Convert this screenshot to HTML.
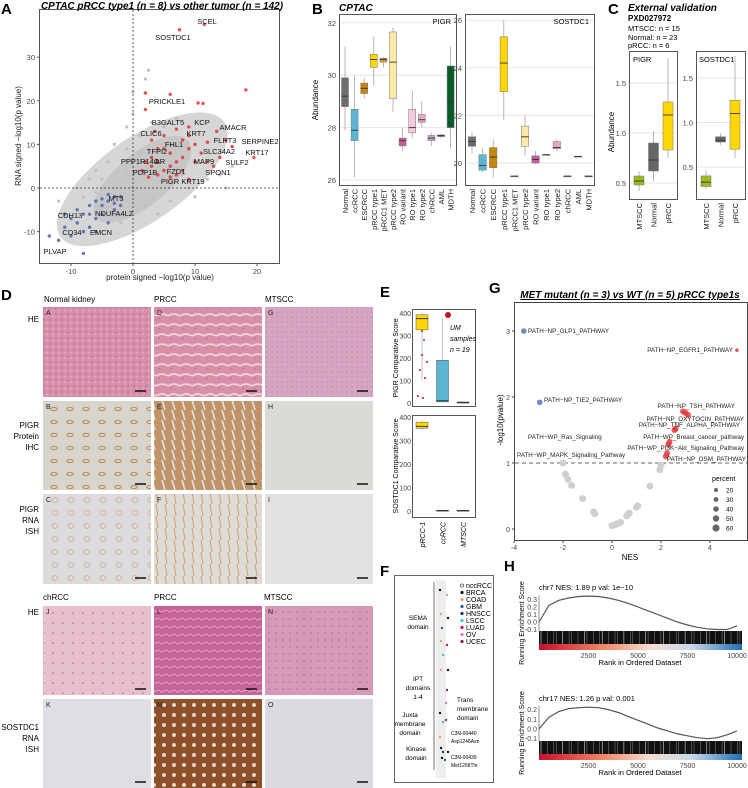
<!DOCTYPE html>
<html><head><meta charset="utf-8">
<style>
html,body{margin:0;padding:0;background:#fff;}
svg{display:block;font-family:"Liberation Sans",sans-serif;}
</style></head>
<body>
<svg id="fig" width="748" height="788" viewBox="0 0 748 788">
<defs>
<linearGradient id="heat" x1="0" x2="1"><stop offset="0" stop-color="#c8102e"/><stop offset="0.3" stop-color="#f08060"/><stop offset="0.55" stop-color="#f4ddd0"/><stop offset="0.75" stop-color="#c8d8e8"/><stop offset="1" stop-color="#1f6fb4"/></linearGradient>
<pattern id="he1" width="6" height="6" patternUnits="userSpaceOnUse"><rect width="6" height="6" fill="#d890aa"/><circle cx="2" cy="2" r="0.9" fill="#b070a0"/><circle cx="5" cy="4.5" r="0.8" fill="#eab8c8"/></pattern>
<pattern id="he2" width="12" height="10" patternUnits="userSpaceOnUse"><rect width="12" height="10" fill="#d890aa"/><path d="M0 6 Q6 2 12 6" stroke="#f0d4dc" stroke-width="1.6" fill="none"/><circle cx="3" cy="8.5" r="0.7" fill="#b06898"/></pattern>
<pattern id="he3" width="5" height="5" patternUnits="userSpaceOnUse"><rect width="5" height="5" fill="#d6a6c0"/><circle cx="2" cy="2" r="0.7" fill="#b088b8"/></pattern>
<pattern id="ihc1" width="16" height="13" patternUnits="userSpaceOnUse"><rect width="16" height="13" fill="#d8d5cf"/><ellipse cx="6" cy="6" rx="3.2" ry="1.6" fill="none" stroke="#c08a52" stroke-width="1"/></pattern>
<pattern id="ihc2" width="10" height="10" patternUnits="userSpaceOnUse"><rect width="10" height="10" fill="#c09468"/><path d="M2 0 L5 10" stroke="#e4e2e0" stroke-width="1.6"/></pattern>
<pattern id="ish1" width="16" height="13" patternUnits="userSpaceOnUse"><rect width="16" height="13" fill="#dcdce0"/><ellipse cx="7" cy="6" rx="3" ry="2.4" fill="none" stroke="#d4aa74" stroke-width="0.8"/></pattern>
<pattern id="ish2" width="9" height="12" patternUnits="userSpaceOnUse"><rect width="9" height="12" fill="#dedad6"/><path d="M3 0 L5 12" stroke="#ccA070" stroke-width="1"/></pattern>
<pattern id="he4" width="10" height="10" patternUnits="userSpaceOnUse"><rect width="10" height="10" fill="#e8c0cc"/><circle cx="3" cy="3" r="0.8" fill="#a46894"/></pattern>
<pattern id="he5" width="8" height="8" patternUnits="userSpaceOnUse"><rect width="8" height="8" fill="#c6649a"/><path d="M0 4 L8 2" stroke="#e4a8c4" stroke-width="1"/></pattern>
<pattern id="he6" width="7" height="7" patternUnits="userSpaceOnUse"><rect width="7" height="7" fill="#d69ab6"/><circle cx="3" cy="3" r="0.8" fill="#a470a0"/></pattern>
<pattern id="sos2" width="10" height="10" patternUnits="userSpaceOnUse"><rect width="10" height="10" fill="#8e5028"/><circle cx="4" cy="5" r="2" fill="#e2d6ce"/></pattern>
</defs>

<!-- Panel letters -->
<g font-weight="bold" font-size="15" fill="#000">
<text x="1" y="14">A</text><text x="312" y="14">B</text><text x="608" y="14">C</text>
<text x="1" y="300">D</text><text x="380" y="297">E</text><text x="380" y="576">F</text>
<text x="489" y="293">G</text><text x="504" y="571">H</text>
</g>

<!-- Panel A -->
<rect x="39.5" y="9.5" width="240" height="254" fill="#fff" stroke="#555"/>
<text x="162" y="9" font-size="10" font-weight="bold" font-style="italic" text-anchor="middle">CPTAC pRCC type1 (n = 8) vs other tumor (n = 142)</text>
<g id="gA"></g>
<text x="160" y="280" font-size="8" text-anchor="middle" fill="#222">protein signed −log10(p value)</text>
<text transform="translate(21,136) rotate(-90)" font-size="8" text-anchor="middle" fill="#222">RNA signed −log10(p value)</text>

<!-- Panel B -->
<text x="339" y="11" font-size="10" font-weight="bold" font-style="italic">CPTAC</text>
<text transform="translate(318,100) rotate(-90)" font-size="8" text-anchor="middle">Abundance</text>
<g id="gB"></g>

<!-- Panel C -->
<text x="628" y="11" font-size="10" font-weight="bold" font-style="italic">External validation</text>
<text x="628" y="21" font-size="8" font-weight="bold">PXD027972</text>
<text x="628" y="31" font-size="7.5">MTSCC: n = 15</text>
<text x="628" y="40" font-size="7.5">Normal: n = 23</text>
<text x="628" y="48" font-size="7.5">pRCC: n = 6</text>
<text transform="translate(614,132) rotate(-90)" font-size="8" text-anchor="middle">Abundance</text>
<g id="gC"></g>

<!-- Panel D -->
<g id="gD"></g>

<!-- Panel E -->
<g id="gE"></g>

<!-- Panel F -->
<g id="gF"></g>

<!-- Panel G -->
<text x="630" y="298" font-size="10" font-weight="bold" font-style="italic" text-anchor="middle" text-decoration="underline">MET mutant (n = 3) vs WT (n = 5) pRCC type1s</text>
<rect x="514.5" y="302.5" width="233" height="238" fill="#fff" stroke="#444"/>
<g id="gG"></g>
<text x="630" y="560" font-size="8" text-anchor="middle">NES</text>
<text transform="translate(503,420) rotate(-90)" font-size="8" text-anchor="middle">-log10(pvalue)</text>

<!-- Panel H -->
<g id="gH"></g>
</svg>

<script>
const NS='http://www.w3.org/2000/svg';
function mk(parent,tag,attrs,txt){const e=document.createElementNS(NS,tag);for(const k in attrs)e.setAttribute(k,attrs[k]);if(txt!==undefined)e.textContent=txt;parent.appendChild(e);return e;}

/* ---------- Panel A data ---------- */
const aXTicks=[-10,0,10,20];
const aYTicks=[-10,0,10,20,30];
const aRed=[[11.5,37.5],[7.5,36.3],[18.2,22.5],[6,21.5],[2,21.8],[10.5,19.5],[11.3,19.4],[2,18],[7,13.5],[9,14],[13.5,13],[15,11],[12,10.5],[4,9],[6,8],[8,7],[10,6],[3,5],[5,4],[7,3],[9,2],[19.5,7],[16,9.5],[14,7],[3,11],[5,12],[8,11],[2.5,2.5],[4,6],[6,5],[9,9],[11,8],[13,5],[1.5,4],[3,7],[5,9],[7,6],[8,4],[10,10],[12,6],[4,3],[6,2.5],[2,6],[3.5,13],[9,12]];
const aBlue=[[-13.5,-11],[-12,-12],[-11,-9],[-10,-7],[-9,-8],[-8,-15],[-8,-6],[-7,-9],[-6,-7],[-5,-4],[-4,-3],[-3,-2],[-5,-6],[-6,-10],[-3,-5],[-2,-2],[-7,-4],[-9,-5],[-4,-8],[-2,-4],[-10,-11],[-6,-3],[-4,-1.5],[-8,-10],[-5,-2.5],[-3,-3.5],[-7,-6],[-11,-6]];
const aGray=[[0,0],[2,3],[-2,-1],[4,5],[-4,-3],[1,8],[3,-2],[-1,4],[6,2],[-3,1],[5,-1],[8,3],[-6,-1],[0,-6],[2,-4],[-5,2],[1,12],[-1,9],[3,15],[0,17],[2,25],[2.5,27],[-1,14],[6,-3],[9,0],[-8,-2],[-7,2],[12,2],[14,3],[-2,-8],[4,-6],[16,5],[-9,0],[-12,-3],[10,-2],[7,16],[5,14],[0,22],[-3,10],[-4,6],[-6,4],[15,0]];
const aLabels=[["SCEL",207,21],["SOSTDC1",173,37],["PRICKLE1",167,101],["B3GALT5",168,122],["KCP",202,122],["AMACR",233,127],["CLIC6",151,133],["KRT7",196,133],["FLRT3",225,140],["SERPINE2",260,141],["FHL1",174,144],["TFPI2",157,151],["SLC34A2",219,151],["KRT17",257,152],["PPP1R14C",140,161],["AR",160,161],["MAP9",204,161],["SULF2",237,162],["PDP1B",145,172],["FZD1",176,171],["SPON1",218,172],["PIGR",170,181],["KRT19",193,181],["MT3",116,198],["CDH13",70,215],["NDUFA4L2",114,213],["CD34",72,232],["EMCN",101,232],["PLVAP",55,251]];
const ax=v=>133+v*6.2, ay=v=>188-v*4.36;
const gA=document.getElementById('gA');
const cloud=mk(gA,'ellipse',{cx:ax(1.5),cy:ay(2),rx:100,ry:42,fill:'#d6d6d6',transform:`rotate(-35 ${ax(1.5)} ${ay(2)})`});


const cloud2=mk(gA,'ellipse',{cx:ax(1.5),cy:ay(2),rx:60,ry:26,fill:'#c6c6c6',transform:`rotate(-40 ${ax(1.5)} ${ay(2)})`});


aGray.forEach(p=>{const c=mk(gA,'circle',{cx:ax(p[0]),cy:ay(p[1]),r:1.6,fill:'#c0c0c0'});

});
aBlue.forEach(p=>{const c=mk(gA,'circle',{cx:ax(p[0]),cy:ay(p[1]),r:1.7,fill:'#4a66b0',opacity:0.85});

});
aRed.forEach(p=>{const c=mk(gA,'circle',{cx:ax(p[0]),cy:ay(p[1]),r:1.7,fill:'#e83030',opacity:0.85});

});
mk(gA,'line',{x1:ax(0),x2:ax(0),y1:10,y2:263,stroke:'#333','stroke-dasharray':'2,2','stroke-width':0.8});
mk(gA,'line',{x1:40,x2:279,y1:ay(0),y2:ay(0),stroke:'#333','stroke-dasharray':'2,2','stroke-width':0.8});
aLabels.forEach(l=>{const t=mk(gA,'text',{x:l[1],y:l[2]+3,'font-size':7.5,'text-anchor':'middle',fill:'#111'},l[0]);

});
aXTicks.forEach(v=>{mk(gA,'line',{x1:ax(v),x2:ax(v),y1:264,y2:266,stroke:'#555'});const t=mk(gA,'text',{x:ax(v),y:274,'font-size':7.5,'text-anchor':'middle',fill:'#444'},v);

});
aYTicks.forEach(v=>{mk(gA,'line',{x1:37,x2:39,y1:ay(v),y2:ay(v),stroke:'#555'});const t=mk(gA,'text',{x:35,y:ay(v)+3,'font-size':7.5,'text-anchor':'end',fill:'#444'},v);

});

/* ---------- Panel B data ---------- */
const bCats=["Normal","ccRCC","ESCRCC","pRCC type1","pRCC1 MET","pRCC type2","RO variant","RO type1","RO type2","chRCC","AML","MDTH"];
const bColors=["#6e6e6e","#5bb5d3","#c8860b","#ffd700","#e6951f","#ffe9a8","#cc5a9a","#f8c8dc","#e8a8c4","#c4a4cc","#888888","#0a5a2a"];
const bPIGR=[[27.9,28.8,29.2,29.9,31.1],[26.1,27.5,27.9,28.7,30.0],[29.1,29.3,29.5,29.7,29.9],[29.6,30.3,30.6,30.8,31.5],[30.3,30.5,30.6,30.65,30.7],[28.6,29.1,30.5,31.65,31.8],[27.1,27.3,27.5,27.6,28.0],[27.6,27.8,28.0,28.7,29.4],[28.0,28.2,28.3,28.5,29.0],[27.3,27.5,27.6,27.7,27.8],[27.6,27.65,27.7,27.72,27.75],[27.2,28.0,29.0,30.35,31.1]];
const bSOS=[[20.4,20.7,20.9,21.1,21.3],[19.6,19.7,19.9,20.35,20.6],[19.4,19.8,20.25,20.65,21.0],[21.8,23.0,24.2,25.3,26.0],[19.45,19.45,19.45,19.45,19.45],[20.3,20.7,21.1,21.55,22.0],[19.95,20.0,20.15,20.3,20.5],[20.35,20.35,20.35,20.35,20.35],[20.5,20.6,20.65,20.9,21.0],[19.45,19.45,19.45,19.45,19.45],[20.28,20.28,20.28,20.28,20.28],[19.45,19.45,19.45,19.45,19.45]];
const bPIGRTicks=[26,28,30,32];
const bSOSTicks=[20,22,24,26];
const gB=document.getElementById('gB');
function boxPanel(g,name,x0,x1,yt,yb,ymap,ticks,data,cats,colors,title,cx0,dx,bw,labelY,dec){
  const fr=mk(g,'rect',{x:x0+.5,y:yt+.5,width:x1-x0,height:yb-yt,fill:'#fff',stroke:'#555'});
  
  
  ticks.forEach(v=>{mk(g,'line',{x1:x0+1,x2:x1,y1:ymap(v),y2:ymap(v),stroke:'#e6e6e6'});
    const t=mk(g,'text',{x:x0-3,y:ymap(v)+3,'font-size':7.5,'text-anchor':'end',fill:'#444'},v.toFixed(dec));
    
    });
  if(title){const t=mk(g,'text',{x:x1-5,y:yt+10,'font-size':7.5,'text-anchor':'end'},title);
    
    }
  data.forEach((d,i)=>{const cx=cx0+i*dx;
    mk(g,'line',{x1:cx,x2:cx,y1:ymap(d[0]),y2:ymap(d[4]),stroke:'#999','stroke-width':0.7});
    const r=mk(g,'rect',{x:cx-bw/2,y:ymap(d[3]),width:bw,height:Math.max(0.8,ymap(d[1])-ymap(d[3])),fill:colors[i],stroke:'#777','stroke-width':0.5});
    
    
    mk(g,'line',{x1:cx-bw/2,x2:cx+bw/2,y1:ymap(d[2]),y2:ymap(d[2]),stroke:'#333','stroke-width':0.9});
    const t=mk(g,'text',{transform:`translate(${cx+3},${labelY}) rotate(-90)`,'font-size':7.5,'text-anchor':'end',fill:'#222'},cats[i]);
    
    
  });
}
const bpy=v=>180-(v-26)*26.2;
boxPanel(gB,'pigr-cptac',339,456,14,185,bpy,bPIGRTicks,bPIGR,bCats,bColors,'PIGR',345,9.6,7,189,0);
const bsy=v=>163-(v-20)*23.8;
boxPanel(gB,'sostdc1-cptac',465,594,14,185,bsy,bSOSTicks,bSOS,bCats,bColors,'SOSTDC1',472,10.6,7.5,189,0);

/* ---------- Panel C data ---------- */
const cCats=["MTSCC","Normal","pRCC"];
const cColors=["#9bbb1f","#666666","#ffd700"];
const cPIGR=[[0.42,0.48,0.52,0.57,0.62],[0.52,0.62,0.73,0.90,1.02],[0.75,0.83,1.18,1.31,1.75]];
const cSOS=[[0.25,0.28,0.33,0.40,0.46],[0.75,0.78,0.80,0.84,0.88],[0.6,0.7,1.1,1.25,1.75]];
const cPIGRTicks=[0.5,1.0,1.5];
const cSOSTicks=[0.5,1.0,1.5];
const gC=document.getElementById('gC');
boxPanel(gC,'pigr-external',629,677,51,199,v=>183-(v-0.5)*100,cPIGRTicks,cPIGR,cCats,cColors,null,639,14.5,10,203,1);
boxPanel(gC,'sostdc1-external',696,745,51,199,v=>167-(v-0.5)*89,cSOSTicks,cSOS,cCats,cColors,null,706,14.5,10,203,1);
mk(gC,'text',{x:633,y:62,'font-size':7.5},'PIGR');
mk(gC,'text',{x:699,y:62,'font-size':7.5},'SOSTDC1');

/* ---------- Panel D ---------- */
const gD=document.getElementById('gD');
const dCols=[43,154,265], dW=108;
const dRows=[[307,90],[401,89],[494,90],[606,89],[699,89]];
const dFills=[["he1","he2","he3"],["ihc1","ihc2","#dcdad6"],["ish1","ish2","#e2e2e2"],["he4","he5","he6"],["#dedfe4","sos2","#d9dbe0"]];
const dLetters=[["A","D","G"],["B","E","H"],["C","F","I"],["J","L","N"],["K","M","O"]];
dRows.forEach((r,ri)=>dCols.forEach((x,ci)=>{const f=dFills[ri][ci];
  const rc=mk(gD,'rect',{x:x,y:r[0],width:dW,height:r[1],fill:f.startsWith('#')?f:`url(#${f})`});
  
  
  mk(gD,'text',{x:x+3,y:r[0]+8,'font-size':7,fill:'#222'},dLetters[ri][ci]);
  mk(gD,'line',{x1:x+dW-16,x2:x+dW-5,y1:r[0]+r[1]-6,y2:r[0]+r[1]-6,stroke:'#111','stroke-width':1.5});
}));
[["Normal kidney",44,302],["PRCC",154,302],["MTSCC",265,302],["chRCC",43,600],["PRCC",154,600],["MTSCC",264,600]].forEach(h=>{const t=mk(gD,'text',{x:h[1],y:h[2],'font-size':8},h[0]);

});
[[["HE"],322],[["PIGR","Protein","IHC"],428],[["PIGR","RNA","ISH"],512],[["HE"],615],[["SOSTDC1","RNA","ISH"],730]].forEach(rl=>{rl[0].forEach((s,i)=>{const t=mk(gD,'text',{x:39,y:rl[1]+i*11,'font-size':8,'text-anchor':'end'},s);

});});

/* ---------- Panel E ---------- */
const eCats=["pRCC-1","ccRCC","MTSCC"];
const ePIGR=[[100,325,375,392,400],[0,5,10,190,375],[0,2,3,4,5]];
const eSOS=[[345,352,360,378,385],[0,1,2,3,4],[0,1,2,3,4]];
const eColors=["#ffd700","#5bb5d3","#cc2020"];
const eTicks=[0,100,200,300,400];
const gE=document.getElementById('gE');
function ePanel(yt,yb,ymap,data,name){
  const fr=mk(gE,'rect',{x:412.5,y:yt+.5,width:63,height:yb-yt,fill:'#fff',stroke:'#555'});
  
  
  eTicks.forEach(v=>{mk(gE,'text',{x:411,y:ymap(v)+3,'font-size':7,'text-anchor':'end',fill:'#444'},v);});
  data.forEach((d,i)=>{const cx=422+i*20.5;
    mk(gE,'line',{x1:cx,x2:cx,y1:ymap(d[0]),y2:ymap(d[4]),stroke:'#999','stroke-width':0.6});
    const r=mk(gE,'rect',{x:cx-6,y:ymap(d[3]),width:12,height:Math.max(1,ymap(d[1])-ymap(d[3])),fill:i==2?'#555':eColors[i],stroke:'#555','stroke-width':0.5});
    
    
    mk(gE,'line',{x1:cx-6,x2:cx+6,y1:ymap(d[2]),y2:ymap(d[2]),stroke:'#333'});
  });
}
ePanel(309,406,v=>403-v*0.225,ePIGR,'pigr-score-frame');
ePanel(415,517,v=>511-v*0.235,eSOS,'sostdc1-score-frame');
[[422,331],[424,340],[420,370],[425,378],[423,398],[418,396],[422,355],[427,362]].forEach(p=>mk(gE,'circle',{cx:p[0],cy:p[1],r:1,fill:'#d01010'}));
mk(gE,'circle',{cx:448,cy:315,r:3,fill:'#d01010'});
[["UM",450,330],["samples",450,341],["n = 19",450,352]].forEach(s=>mk(gE,'text',{x:s[1],y:s[2],'font-size':7,'font-style':'italic'},s[0]));
mk(gE,'text',{transform:'translate(398,358) rotate(-90)','font-size':7,'text-anchor':'middle'},'PIGR Comparative Score');
mk(gE,'text',{transform:'translate(398,466) rotate(-90)','font-size':7,'text-anchor':'middle'},'SOSTDC1 Comparative Score');
eCats.forEach((c,i)=>{const t=mk(gE,'text',{transform:`translate(${425+i*20.5},522) rotate(-90)`,'font-size':7,'text-anchor':'end','font-style':'italic'},c);

});

/* ---------- Panel F ---------- */
const gF=document.getElementById('gF');
const fr=mk(gF,'rect',{x:394.5,y:575.5,width:99,height:207,fill:'#fff',stroke:'#666'});


mk(gF,'rect',{x:436,y:580,width:10,height:198,fill:'#eeeeee'});
mk(gF,'line',{x1:434,x2:434,y1:582,y2:770,stroke:'#888','stroke-width':1.2});
const fTypes=["nccRCC","BRCA","COAD","GBM","HNSCC","LSCC","LUAD","OV","UCEC"];
const fColors=["#fff","#111","#e8a070","#1f5fa0","#223366","#40c0d0","#d0105a","#d080c0","#802070"];
fTypes.forEach((s,i)=>{const y=588+i*7;
  mk(gF,'circle',{cx:462,cy:y-2.5,r:1.6,fill:fColors[i],stroke:i==0?'#222':'none','stroke-width':0.6});
  const t=mk(gF,'text',{x:466,y:y,'font-size':7},s);
  
  });
const fMut=[[440,590,1],[447,595,2],[441,614,2],[448,618,1],[442,628,3],[441,641,2],[447,645,6],[443,655,5],[441,670,2],[448,670,1],[447,690,8],[446,703,7],[440,713,1],[446,720,6],[443,722,5],[440,737,2],[441,748,1],[443,752,4],[448,752,1],[442,758,1],[445,760,3]];
fMut.forEach(m=>{const c=mk(gF,'circle',{cx:m[0],cy:m[1],r:1.2,fill:fColors[m[2]]});

});
[[["SEMA","domain"],620,418],[["IPT","domains","1-4"],681,418],[["Juxta","membrane","domain"],717,410],[["Kinase","domain"],751,416],[["Trans","membrane","domain"],702,457]].forEach(d=>d[0].forEach((s,i)=>{const t=mk(gF,'text',{x:d[2],y:d[1]+i*9,'font-size':6.5,'text-anchor':d[2]>450?'start':'middle'},s);

}));
[["C3N-00440",735],["Asp1246Asn",743],["C3N-00439",759],["Met1268Thr",767]].forEach(s=>mk(gF,'text',{x:451,y:s[1],'font-size':5},s[0]));

/* ---------- Panel G data ---------- */
const gXTicks=[-4,-2,0,2,4];
const gYTicks=[0,1,2,3];
const gGray=[[-2,1.0],[-1.9,0.83],[-1.8,0.75],[-1.65,0.66],[-1.2,0.46],[-0.75,0.26],[-0.7,0.23],[0,0.05],[0.1,0.06],[0.2,0.08],[0.35,0.1],[0.6,0.2],[0.7,0.24],[1.0,0.33],[1.05,0.35],[1.55,0.65],[1.95,0.9],[2.0,0.97]];
const gRed=[[5.1,2.71],[2.9,1.78],[3.0,1.76],[3.1,1.73],[2.6,1.52],[2.55,1.5],[2.35,1.32],[2.3,1.28],[2.25,1.15],[2.2,1.1]];
const gBlue=[[-3.6,3.0],[-2.95,1.92]];
const gLabels=[["PATH−NP_GLP1_PATHWAY",528,333,"start"],["PATH−NP_EGFR1_PATHWAY",733,352,"end"],["PATH−NP_TIE2_PATHWAY",544,402,"start"],["PATH−NP_TSH_PATHWAY",735,408,"end"],["PATH−NP_OXYTOCIN_PATHWAY",744,421,"end"],["PATH−NP_TNF_ALPHA_PATHWAY",740,427,"end"],["PATH−WP_Ras_Signaling",528,439,"start"],["PATH−WP_Breast_cancer_pathway",744,439,"end"],["PATH−WP_PI3K−Akt_Signaling_Pathway",744,450,"end"],["PATH−WP_MAPK_Signaling_Pathway",517,457,"start"],["PATH−NP_OSM_PATHWAY",746,461,"end"]];
const gx=v=>612+v*24.5, gy=v=>529-v*66;
const gG=document.getElementById('gG');
mk(gG,'line',{x1:515,x2:747,y1:gy(1),y2:gy(1),stroke:'#666','stroke-dasharray':'4,3'});
gGray.forEach(p=>{const c=mk(gG,'circle',{cx:gx(p[0]),cy:gy(p[1]),r:3.5,fill:'#cfcfcf'});

});
gRed.forEach(p=>{const c=mk(gG,'circle',{cx:gx(p[0]),cy:gy(p[1]),r:p[0]>5?1.8:3,fill:'#e83a3a',opacity:0.85});

});
gBlue.forEach(p=>{const c=mk(gG,'circle',{cx:gx(p[0]),cy:gy(p[1]),r:2.8,fill:'#7088c0'});

});
gLabels.forEach(l=>{const t=mk(gG,'text',{x:l[1],y:l[2],'font-size':6.3,'text-anchor':l[3],fill:'#222'},l[0]);

});
gXTicks.forEach(v=>{mk(gG,'line',{x1:gx(v),x2:gx(v),y1:541,y2:543,stroke:'#444'});mk(gG,'text',{x:gx(v),y:550,'font-size':7,'text-anchor':'middle',fill:'#444'},v);});
gYTicks.forEach(v=>{mk(gG,'line',{x1:512,x2:514,y1:gy(v),y2:gy(v),stroke:'#444'});mk(gG,'text',{x:510,y:gy(v)+3,'font-size':7,'text-anchor':'end',fill:'#444'},v);});
const legPct=[20,30,40,50,60];
mk(gG,'text',{x:712,y:481,'font-size':7},'percent');
legPct.forEach((p,i)=>{const y=490+i*9.5;mk(gG,'circle',{cx:716,cy:y,r:1.2+p/25,fill:'#666'});const t=mk(gG,'text',{x:726,y:y+2.5,'font-size':6.5},p);

});

/* ---------- Panel H data ---------- */
const hRanks=[0,500,1000,1500,2000,2500,3000,3500,4000,4500,5000,5500,6000,6500,7000,7500,8000,8500,9000,9500,10000];
const hES7=[0,0.22,0.29,0.32,0.34,0.345,0.34,0.32,0.29,0.25,0.2,0.15,0.1,0.05,0.0,-0.04,-0.07,-0.09,-0.1,-0.1,-0.05];
const hES17=[0,0.12,0.18,0.21,0.22,0.225,0.22,0.2,0.17,0.13,0.09,0.05,0.01,-0.02,-0.05,-0.07,-0.09,-0.1,-0.09,-0.06,-0.02];
const hXTicks=[2500,5000,7500,10000];
const hTicks7=[-0.1,0.0,0.1,0.2,0.3];
const hTicks17=[-0.1,0.0,0.1,0.2];
const gH=document.getElementById('gH');
const hx=v=>539+v*0.0198;
function gsea(title,titleY,es,ticks,y0,scale,barTop,name){
  const yy=v=>y0-v*scale;
  const t=mk(gH,'text',{x:539,y:titleY,'font-size':7.5},title);
  
  
  ticks.forEach(v=>{mk(gH,'text',{x:537,y:yy(v)+2.5,'font-size':7,'text-anchor':'end',fill:'#444'},v.toFixed(1));});
  mk(gH,'line',{x1:539,x2:539,y1:yy(ticks[ticks.length-1])-4,y2:barTop,stroke:'#444','stroke-width':0.6});
  const d=es.map((v,i)=>(i?'L':'M')+hx(hRanks[i]).toFixed(1)+' '+yy(v).toFixed(1)).join(' ');
  const p=mk(gH,'path',{d:d,fill:'none',stroke:'#555','stroke-width':1.2});
  
  
  mk(gH,'rect',{x:539,y:barTop,width:203,height:13,fill:'#111'});
  for(let k=0;k<40;k++){const x=541+k*5.1+(k%3)*1.3;mk(gH,'line',{x1:x,x2:x,y1:barTop,y2:barTop+13,stroke:k%4==0?'#fff':'#888','stroke-width':0.5});}
  const hb=mk(gH,'rect',{x:539,y:barTop+13,width:203,height:6,fill:'url(#heat)'});
  
  
  hXTicks.forEach(v=>mk(gH,'text',{x:hx(v),y:barTop+27,'font-size':7,'text-anchor':'middle',fill:'#444'},v));
  mk(gH,'text',{x:640,y:barTop+34,'font-size':7.5,'text-anchor':'middle'},'Rank in Ordered Dataset');
  mk(gH,'text',{transform:`translate(524,${barTop-8}) rotate(-90)`,'font-size':7,'text-anchor':'middle'},'Running Enrichment Score');
}
gsea('chr7 NES: 1.89 p val: 1e−10',590,hES7,hTicks7,622,75,631,'chr7');
gsea('chr17 NES: 1.26 p val: 0.001',701,hES17,hTicks17,729,97,741,'chr17');
</script>
</body></html>
